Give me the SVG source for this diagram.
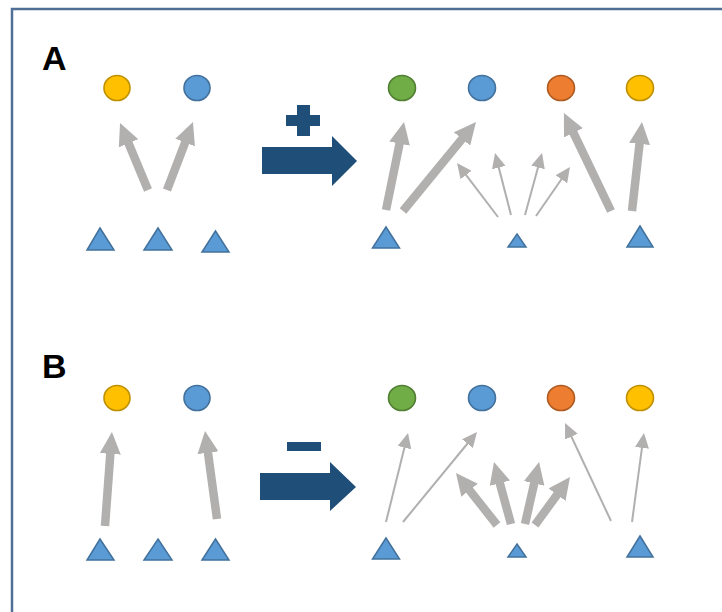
<svg xmlns="http://www.w3.org/2000/svg" width="722" height="612" viewBox="0 0 722 612">
<defs>
<style>
.frame{fill:#fff;stroke:#4f6f96;stroke-width:2.5}
.lbl{font-family:"Liberation Sans",Arial,sans-serif;font-weight:bold;font-size:34px;fill:#000}
.tri{fill:#5b9bd5;stroke:#41719c;stroke-width:1.5;stroke-linejoin:miter}
.cb{fill:#5b9bd5;stroke:#41719c;stroke-width:1.6}
.cy{fill:#ffc000;stroke:#bf9000;stroke-width:1.6}
.cg{fill:#70ad47;stroke:#507e32;stroke-width:1.6}
.co{fill:#ed7d31;stroke:#ae5a21;stroke-width:1.6}
.thick{stroke:#b2afaf;stroke-width:8.5;fill:none;marker-end:url(#hk)}
.thin{stroke:#b2afaf;stroke-width:2;fill:none;marker-end:url(#hn)}
.big{fill:#1f4e79}
</style>
<marker id="hk" markerUnits="userSpaceOnUse" markerWidth="22" markerHeight="21" refX="5" refY="10.5" orient="auto" viewBox="0 0 22 21">
<path d="M0,0 L22,10.5 L0,21 z" fill="#b2afaf"/>
</marker>
<marker id="hn" markerUnits="userSpaceOnUse" markerWidth="15" markerHeight="14" refX="4" refY="7" orient="auto" viewBox="0 0 15 14">
<path d="M0,0 L15,7 L0,14 z" fill="#b2afaf"/>
</marker>
</defs>
<rect class="frame" x="12" y="9" width="720" height="620"/>
<text class="lbl" x="42" y="70">A</text>
<text class="lbl" x="42" y="378">B</text>

<g id="connectors">
<line class="thick" x1="148" y1="190" x2="126.6" y2="138.7"/>
<line class="thick" x1="167" y1="190" x2="186.9" y2="137.9"/>
<line class="thick" x1="386" y1="210" x2="400.6" y2="138.7"/>
<line class="thick" x1="403" y1="211" x2="465.2" y2="135.1"/>
<line class="thin" x1="498" y1="217" x2="463.7" y2="171.8"/>
<line class="thin" x1="511" y1="215" x2="497.8" y2="163.7"/>
<line class="thin" x1="525" y1="215" x2="539.1" y2="163.6"/>
<line class="thin" x1="536" y1="216" x2="563.7" y2="176"/>
<line class="thick" x1="611" y1="211" x2="571.3" y2="128.3"/>
<line class="thick" x1="632" y1="211" x2="640.1" y2="138.9"/>

<line class="thick" x1="105" y1="526" x2="110.7" y2="448.9"/>
<line class="thick" x1="217" y1="519" x2="207.3" y2="447.8"/>
<line class="thin" x1="386" y1="522" x2="405.4" y2="443.7"/>
<line class="thin" x1="403" y1="522" x2="470" y2="440.5"/>
<line class="thick" x1="497" y1="525" x2="466.5" y2="486.3"/>
<line class="thick" x1="511" y1="524" x2="498.5" y2="478.4"/>
<line class="thick" x1="525" y1="524" x2="535.3" y2="478.6"/>
<line class="thick" x1="535" y1="525" x2="560" y2="490.7"/>
<line class="thin" x1="611" y1="521" x2="569.7" y2="433"/>
<line class="thin" x1="632" y1="522" x2="642.5" y2="443.9"/>
</g>

<g id="bigArrowA">
<polygon class="big" points="262,147 332,147 332,136 357,161 332,186 332,174 262,174"/>
<path class="big" d="M297,105 H310 V115 H320 V126 H310 V136 H297 V126 H286 V115 H297 z"/>
</g>
<g id="bigArrowB">
<polygon class="big" points="260,473 330,473 330,462 356,487 330,511 330,500 260,500"/>
<rect class="big" x="287" y="442" width="34" height="9"/>
</g>

<g id="A-left-nodes">
<g id="a-c1"><ellipse class="cy" cx="117" cy="88" rx="13" ry="12.5"/></g>
<g id="a-c2"><ellipse class="cb" cx="197" cy="88" rx="13" ry="12.5"/></g>
<g id="a-t1"><polygon class="tri" points="100,228 114,250 87,250"/></g>
<g id="a-t2"><polygon class="tri" points="158,228 172,250 144,250"/></g>
<g id="a-t3"><polygon class="tri" points="215.5,231 229,252 202,252"/></g>
</g>
<g id="A-right-nodes">
<g id="ar-c1"><ellipse class="cg" cx="402" cy="88" rx="13.5" ry="12.5"/></g>
<g id="ar-c2"><ellipse class="cb" cx="482" cy="88" rx="13.5" ry="12.5"/></g>
<g id="ar-c3"><ellipse class="co" cx="561" cy="88" rx="13.5" ry="12.5"/></g>
<g id="ar-c4"><ellipse class="cy" cx="640" cy="88" rx="13.5" ry="12.5"/></g>
<g id="ar-t1"><polygon class="tri" points="386,227 399.5,248 372.5,248"/></g>
<g id="ar-t2"><polygon class="tri" points="517,234 526,247 508,247"/></g>
<g id="ar-t3"><polygon class="tri" points="640,226 653,247 627,247"/></g>
</g>

<g id="B-left-nodes">
<g id="b-c1"><ellipse class="cy" cx="117" cy="398" rx="13" ry="12.5"/></g>
<g id="b-c2"><ellipse class="cb" cx="197" cy="398" rx="13" ry="12.5"/></g>
<g id="b-t1"><polygon class="tri" points="100,539 114,560 87,560"/></g>
<g id="b-t2"><polygon class="tri" points="158,539 172,560 144,560"/></g>
<g id="b-t3"><polygon class="tri" points="215.5,539 229,560 202,560"/></g>
</g>
<g id="B-right-nodes">
<g id="br-c1"><ellipse class="cg" cx="402" cy="398" rx="13.5" ry="12.5"/></g>
<g id="br-c2"><ellipse class="cb" cx="482" cy="398" rx="13.5" ry="12.5"/></g>
<g id="br-c3"><ellipse class="co" cx="561" cy="398" rx="13.5" ry="12.5"/></g>
<g id="br-c4"><ellipse class="cy" cx="640" cy="398" rx="13.5" ry="12.5"/></g>
<g id="br-t1"><polygon class="tri" points="386,538 399.5,559 372.5,559"/></g>
<g id="br-t2"><polygon class="tri" points="517,544 526,557 508,557"/></g>
<g id="br-t3"><polygon class="tri" points="640,536 653,557 627,557"/></g>
</g>
</svg>
